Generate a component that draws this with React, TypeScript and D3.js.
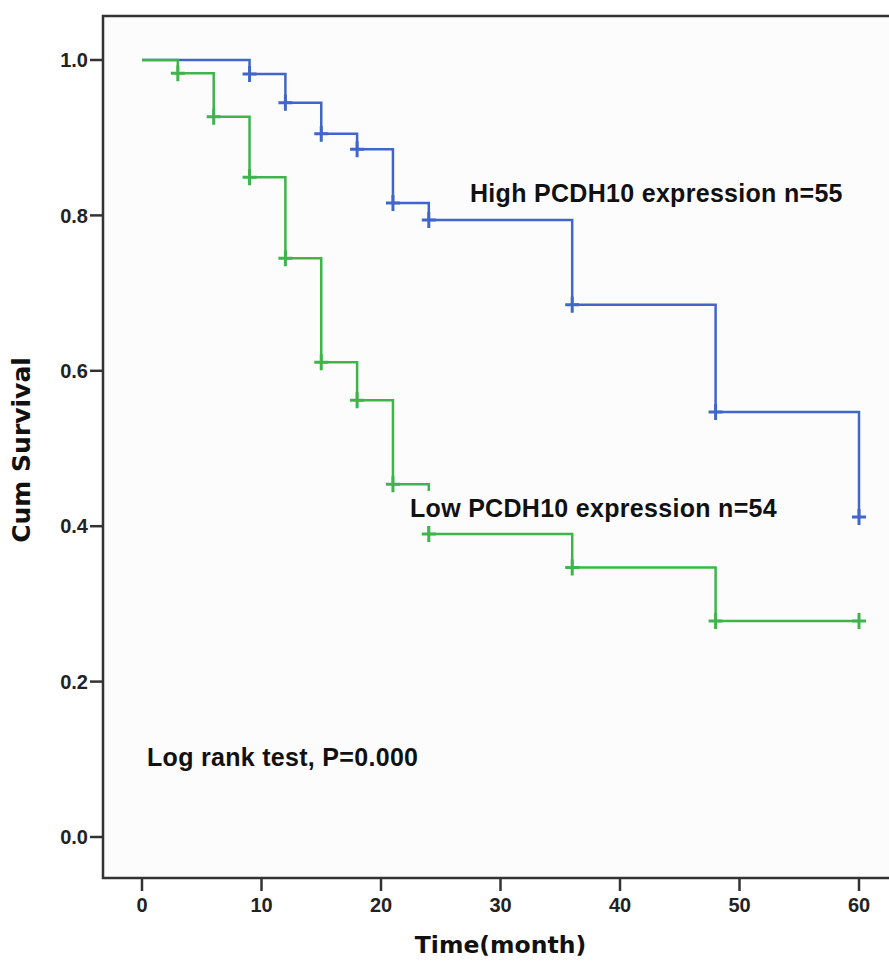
import React, { useRef, useEffect } from "react";
import * as d3 from "d3";

// survival estimates
const times = [0, 3, 6, 9, 12, 15, 18, 21, 24, 36, 48, 60];
const highSurvival = [1, 1, 1, 0.982, 0.945, 0.905, 0.885, 0.816, 0.794, 0.685, 0.547, 0.412];
const lowSurvival = [1, 0.983, 0.927, 0.849, 0.745, 0.611, 0.562, 0.454, 0.39, 0.347, 0.278, 0.278];
const highCensored = [9, 12, 15, 18, 21, 24, 36, 48, 60];
const lowCensored = [3, 6, 9, 12, 15, 18, 21, 24, 36, 48, 60];
const xTicks = [0, 10, 20, 30, 40, 50, 60];
const yTicks = [0, 0.2, 0.4, 0.6, 0.8, 1.0];

const W = 889;
const H = 964;

export default function App() {
  const ref = useRef<SVGSVGElement>(null);

  useEffect(() => {
    const svg = d3.select(ref.current);
    svg.selectAll("*").remove();

    const x = d3.scaleLinear().domain([0, 60]).range([142, 859]);
    const y = d3.scaleLinear().domain([0, 1]).range([837, 60]);
    const frame = { left: 103, top: 16, bottom: 878, right: 895 };
    const axisCol = "#333";
    const tickFont = "'Liberation Sans', Arial, sans-serif";

    svg.append("rect").attr("width", W).attr("height", H).attr("fill", "#fff");
    svg.append("rect")
      .attr("x", frame.left).attr("y", frame.top)
      .attr("width", frame.right - frame.left).attr("height", frame.bottom - frame.top)
      .attr("fill", "#fcfcfd").attr("stroke", axisCol).attr("stroke-width", 2.5);

    // y axis ticks
    const yg = svg.append("g");
    yTicks.forEach((t) => {
      yg.append("line").attr("x1", 90).attr("x2", frame.left)
        .attr("y1", y(t)).attr("y2", y(t)).attr("stroke", axisCol).attr("stroke-width", 2.5);
      yg.append("text").attr("x", 88).attr("y", y(t)).attr("dy", "0.36em")
        .attr("text-anchor", "end").attr("font-family", tickFont)
        .attr("font-weight", "bold").attr("font-size", 20).attr("fill", "#222")
        .text(d3.format(".1f")(t));
    });

    // x axis ticks
    const xg = svg.append("g");
    xTicks.forEach((t) => {
      xg.append("line").attr("x1", x(t)).attr("x2", x(t))
        .attr("y1", frame.bottom).attr("y2", frame.bottom + 13).attr("stroke", axisCol).attr("stroke-width", 2.5);
      xg.append("text").attr("x", x(t)).attr("y", 912)
        .attr("text-anchor", "middle").attr("font-family", tickFont)
        .attr("font-weight", "bold").attr("font-size", 20).attr("fill", "#222")
        .text(t);
    });

    // axis titles
    svg.append("text").attr("x", (x(0) + x(60)) / 2).attr("y", 953)
      .attr("text-anchor", "middle").attr("font-family", "'DejaVu Sans', sans-serif")
      .attr("font-weight", "bold").attr("font-size", 23.5).attr("fill", "#111")
      .text("Time(month)");
    svg.append("text").attr("transform", "translate(30,450) rotate(-90)")
      .attr("text-anchor", "middle").attr("font-family", "'DejaVu Sans', sans-serif")
      .attr("font-weight", "bold").attr("font-size", 25).attr("fill", "#111")
      .text("Cum Survival");

    const line = d3.line<number>()
      .x((d, i) => x(times[i]))
      .y((d) => y(d))
      .curve(d3.curveStepAfter);

    const series = [
      { vals: highSurvival, cens: highCensored, color: "#4166c9" },
      { vals: lowSurvival, cens: lowCensored, color: "#3db54b" },
    ];

    series.forEach((s) => {
      svg.append("path").attr("d", line(s.vals))
        .attr("fill", "none").attr("stroke", s.color).attr("stroke-width", 2.5);
      s.cens.forEach((t) => {
        const v = s.vals[times.indexOf(t)];
        svg.append("path")
          .attr("d", `M${x(t) - 7},${y(v)}H${x(t) + 7}M${x(t)},${y(v) - 8}V${y(v) + 8}`)
          .attr("stroke", s.color).attr("stroke-width", 3).attr("fill", "none");
      });
    });

    // annotations with white boxes, as SPSS draws them
    const notes = [
      { text: "High PCDH10 expression n=55", x: 470, y: 202 },
      { text: "Low PCDH10 expression n=54", x: 410, y: 517 },
      { text: "Log rank test, P=0.000", x: 147, y: 766 },
    ];
    notes.forEach((n) => {
      const g = svg.append("g");
      const bg = g.append("rect").attr("fill", "#fcfcfd");
      const t = g.append("text").attr("x", n.x).attr("y", n.y)
        .attr("font-family", tickFont).attr("font-weight", "bold")
        .attr("letter-spacing", 0.3)
        .attr("font-size", 25).attr("fill", "#111").text(n.text);
      const bb = (t.node() as SVGTextElement).getBBox();
      bg.attr("x", bb.x - 3).attr("y", n.y - 26).attr("width", bb.width + 6).attr("height", 35);
    });
  }, []);

  return (
    <svg ref={ref} width={W} height={H} style={{ position: "absolute", left: 0, top: 0 }} />
  );
}
